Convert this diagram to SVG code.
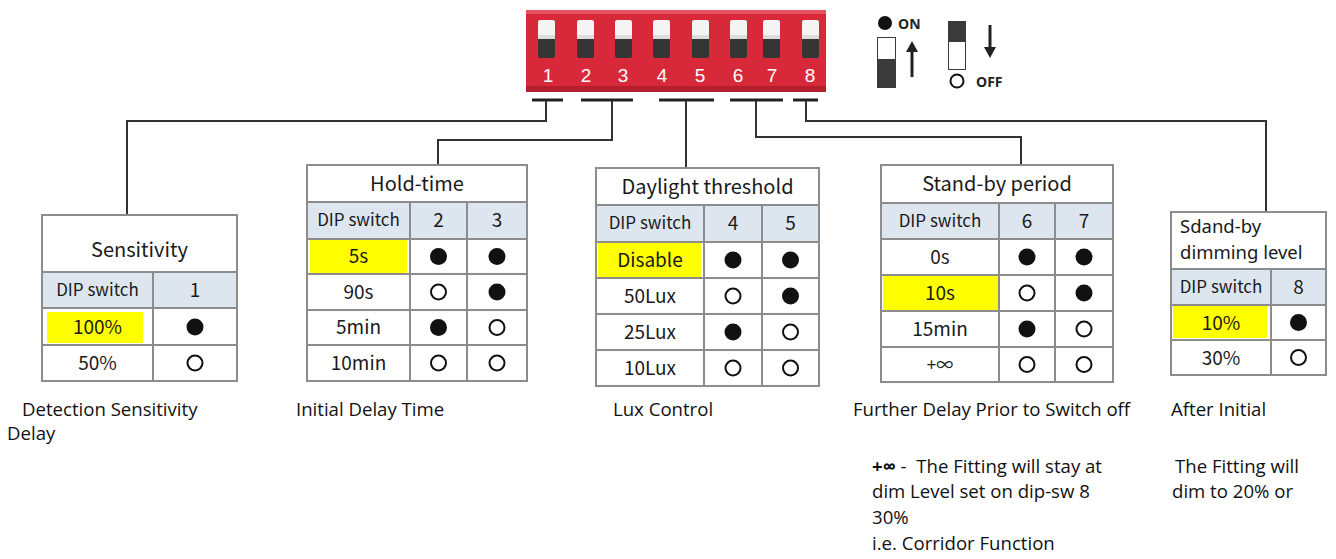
<svg xmlns="http://www.w3.org/2000/svg" width="1336" height="559" viewBox="0 0 1336 559">
<style>
.bg{fill:#fff}
.conn{fill:none;stroke:#333;stroke-width:2}
.bar{fill:#222}
.box{fill:#fff;stroke:#8c8c8c;stroke-width:2}
.hdr{fill:#dde6ef}
.ln{stroke:#8c8c8c;stroke-width:2}
.hl{fill:#ffff00}
.t{font-family:"Noto Sans CJK SC","Noto Sans",sans-serif;fill:#1a1a1a;text-anchor:middle}
.ttl{font-size:20px}
.dip{font-size:17px}
.val{font-size:19px}
.on{fill:#111}
.off{fill:#fff;stroke:#111;stroke-width:2}
.num{font-family:"Liberation Sans",Arial,sans-serif;font-size:19px;fill:#fff;text-anchor:middle}
.lg{font-family:"Open Sans","Liberation Sans",sans-serif;font-size:14px;font-weight:bold;fill:#222}
.note{font-family:"Open Sans","Liberation Sans",sans-serif;font-size:18.6px;fill:#111;white-space:pre}
.sw-w{fill:#f4f4f4}
.sw-d{fill:#353535}
</style>
<defs>
<g id="sw"><rect x="0" y="0" width="17" height="38" rx="2" class="sw-d"/><rect x="0" y="0" width="17" height="19" rx="2" class="sw-w"/><rect x="0" y="15" width="17" height="4" fill="#ddd"/></g>
</defs>
<rect class="bg" x="0" y="0" width="1336" height="559"/>

<g id="dip-switch">
<rect x="526" y="10" width="300" height="82" rx="2" fill="#d8293a"/>
<rect x="526" y="10" width="300" height="4" fill="#e4525f"/>
<rect x="526" y="86" width="300" height="6" fill="#b51f2d"/>
<use href="#sw" x="538" y="20"/>
<use href="#sw" x="577" y="20"/>
<use href="#sw" x="615" y="20"/>
<use href="#sw" x="653" y="20"/>
<use href="#sw" x="692" y="20"/>
<use href="#sw" x="730" y="20"/>
<use href="#sw" x="763" y="20"/>
<use href="#sw" x="802" y="20"/>
<text class="num" x="548" y="82">1</text>
<text class="num" x="586" y="82">2</text>
<text class="num" x="623" y="82">3</text>
<text class="num" x="662" y="82">4</text>
<text class="num" x="700" y="82">5</text>
<text class="num" x="738" y="82">6</text>
<text class="num" x="772" y="82">7</text>
<text class="num" x="810" y="82">8</text>
<rect class="bar" x="532" y="98.5" width="31" height="3"/>
<rect class="bar" x="581" y="98.5" width="52" height="3"/>
<rect class="bar" x="659" y="98.5" width="55" height="3"/>
<rect class="bar" x="730" y="98.5" width="53" height="3"/>
<rect class="bar" x="793" y="98.5" width="25" height="3"/>
</g>

<g id="legend">
<circle cx="885" cy="23" r="7" class="on"/>
<text class="lg" x="898" y="29">ON</text>
<rect x="877" y="37" width="19" height="51" fill="#3a3a3a"/>
<rect x="878" y="38" width="17" height="21" fill="#fff"/>
<path d="M912 77 V50" stroke="#222" stroke-width="3"/>
<path d="M906 52 L912 41 L918 52 Z" fill="#222"/>
<rect x="948" y="21" width="18" height="49" fill="#3a3a3a"/>
<rect x="949" y="42" width="16" height="27" fill="#fff"/>
<path d="M990 25 V48" stroke="#222" stroke-width="3"/>
<path d="M984 47 L990 58 L996 47 Z" fill="#222"/>
<circle cx="957" cy="81" r="6.5" class="off"/>
<text class="lg" x="976" y="87">OFF</text>
</g>

<g id="connectors">
<path class="conn" d="M546 101 V121 H127 V215"/>
<path class="conn" d="M612 101 V140 H438 V165"/>
<path class="conn" d="M686 101 V168"/>
<path class="conn" d="M756 101 V137 H1021 V165"/>
<path class="conn" d="M806 101 V121 H1266 V212"/>
</g>

<g id="sensitivity">
<rect class="box" x="42" y="215" width="195" height="166"/>
<rect class="hdr" x="43" y="272" width="193" height="36"/>
<rect class="hl" x="47" y="312" width="96" height="31"/>
<line class="ln" x1="42" y1="272" x2="237" y2="272"/>
<line class="ln" x1="42" y1="308" x2="237" y2="308"/>
<line class="ln" x1="42" y1="345" x2="237" y2="345"/>
<line class="ln" x1="153" y1="272" x2="153" y2="381"/>
<text class="t ttl" x="139.5" y="257">Sensitivity</text>
<text class="t dip" x="97.5" y="296">DIP switch</text>
<text class="t val" x="195" y="297">1</text>
<text class="t val" x="97.5" y="334">100%</text>
<text class="t val" x="97.5" y="370">50%</text>
<circle class="on" cx="195" cy="327" r="8.5"/>
<circle class="off" cx="195" cy="363" r="7.5"/>
</g>

<g id="hold-time">
<rect class="box" x="307" y="165" width="220" height="216"/>
<rect class="hdr" x="308" y="202" width="218" height="37"/>
<rect class="hl" x="310" y="240" width="97" height="33"/>
<line class="ln" x1="307" y1="202" x2="527" y2="202"/>
<line class="ln" x1="307" y1="239" x2="527" y2="239"/>
<line class="ln" x1="307" y1="274" x2="527" y2="274"/>
<line class="ln" x1="307" y1="310" x2="527" y2="310"/>
<line class="ln" x1="307" y1="345" x2="527" y2="345"/>
<line class="ln" x1="410" y1="202" x2="410" y2="381"/>
<line class="ln" x1="467" y1="202" x2="467" y2="381"/>
<text class="t ttl" x="417" y="191">Hold-time</text>
<text class="t dip" x="358.5" y="226">DIP switch</text>
<text class="t val" x="438.5" y="227">2</text>
<text class="t val" x="497" y="227">3</text>
<text class="t val" x="358.5" y="263">5s</text>
<text class="t val" x="358.5" y="299">90s</text>
<text class="t val" x="358.5" y="334">5min</text>
<text class="t val" x="358.5" y="370">10min</text>
<circle class="on" cx="438.5" cy="256.5" r="8.5"/>
<circle class="on" cx="497" cy="256.5" r="8.5"/>
<circle class="off" cx="438.5" cy="292" r="7.5"/>
<circle class="on" cx="497" cy="292" r="8.5"/>
<circle class="on" cx="438.5" cy="327.5" r="8.5"/>
<circle class="off" cx="497" cy="327.5" r="7.5"/>
<circle class="off" cx="438.5" cy="363" r="7.5"/>
<circle class="off" cx="497" cy="363" r="7.5"/>
</g>

<g id="daylight-threshold">
<rect class="box" x="596" y="168" width="223" height="218"/>
<rect class="hdr" x="597" y="205" width="221" height="37"/>
<rect class="hl" x="598" y="243" width="103" height="34"/>
<line class="ln" x1="596" y1="205" x2="819" y2="205"/>
<line class="ln" x1="596" y1="242" x2="819" y2="242"/>
<line class="ln" x1="596" y1="278" x2="819" y2="278"/>
<line class="ln" x1="596" y1="314" x2="819" y2="314"/>
<line class="ln" x1="596" y1="350" x2="819" y2="350"/>
<line class="ln" x1="704" y1="205" x2="704" y2="386"/>
<line class="ln" x1="762" y1="205" x2="762" y2="386"/>
<text class="t ttl" x="707.5" y="194">Daylight threshold</text>
<text class="t dip" x="650" y="229">DIP switch</text>
<text class="t val" x="733" y="230">4</text>
<text class="t val" x="790.5" y="230">5</text>
<text class="t val" x="650" y="267">Disable</text>
<text class="t val" x="650" y="303">50Lux</text>
<text class="t val" x="650" y="339">25Lux</text>
<text class="t val" x="650" y="375">10Lux</text>
<circle class="on" cx="733" cy="260" r="8.5"/>
<circle class="on" cx="790.5" cy="260" r="8.5"/>
<circle class="off" cx="733" cy="296" r="7.5"/>
<circle class="on" cx="790.5" cy="296" r="8.5"/>
<circle class="on" cx="733" cy="332" r="8.5"/>
<circle class="off" cx="790.5" cy="332" r="7.5"/>
<circle class="off" cx="733" cy="368" r="7.5"/>
<circle class="off" cx="790.5" cy="368" r="7.5"/>
</g>

<g id="stand-by-period">
<rect class="box" x="881" y="165" width="232" height="217"/>
<rect class="hdr" x="882" y="203" width="230" height="36"/>
<rect class="hl" x="883" y="276" width="115" height="34"/>
<line class="ln" x1="881" y1="203" x2="1113" y2="203"/>
<line class="ln" x1="881" y1="239" x2="1113" y2="239"/>
<line class="ln" x1="881" y1="275" x2="1113" y2="275"/>
<line class="ln" x1="881" y1="311" x2="1113" y2="311"/>
<line class="ln" x1="881" y1="347" x2="1113" y2="347"/>
<line class="ln" x1="999" y1="203" x2="999" y2="382"/>
<line class="ln" x1="1055" y1="203" x2="1055" y2="382"/>
<text class="t ttl" x="997" y="191">Stand-by period</text>
<text class="t dip" x="940" y="227">DIP switch</text>
<text class="t val" x="1027" y="228">6</text>
<text class="t val" x="1084" y="228">7</text>
<text class="t val" x="940" y="264">0s</text>
<text class="t val" x="940" y="300">10s</text>
<text class="t val" x="940" y="336">15min</text>
<text class="t dip" x="940" y="371">+∞</text>
<circle class="on" cx="1027" cy="257" r="8.5"/>
<circle class="on" cx="1084" cy="257" r="8.5"/>
<circle class="off" cx="1027" cy="293" r="7.5"/>
<circle class="on" cx="1084" cy="293" r="8.5"/>
<circle class="on" cx="1027" cy="329" r="8.5"/>
<circle class="off" cx="1084" cy="329" r="7.5"/>
<circle class="off" cx="1027" cy="364.5" r="7.5"/>
<circle class="off" cx="1084" cy="364.5" r="7.5"/>
</g>

<g id="stand-by-dimming-level">
<rect class="box" x="1171" y="212" width="155" height="163"/>
<rect class="hdr" x="1172" y="269" width="153" height="36"/>
<rect class="hl" x="1173" y="306" width="94" height="32"/>
<line class="ln" x1="1171" y1="269" x2="1326" y2="269"/>
<line class="ln" x1="1171" y1="305" x2="1326" y2="305"/>
<line class="ln" x1="1171" y1="340" x2="1326" y2="340"/>
<line class="ln" x1="1271" y1="269" x2="1271" y2="375"/>
<text x="1180" y="233" style="font-family:'Noto Sans',sans-serif;font-size:18.5px;fill:#1a1a1a">Sdand-by</text>
<text x="1180" y="259" style="font-family:'Noto Sans',sans-serif;font-size:18.5px;fill:#1a1a1a">dimming level</text>
<text class="t dip" x="1221" y="293">DIP switch</text>
<text class="t val" x="1298.5" y="294">8</text>
<text class="t val" x="1221" y="330">10%</text>
<text class="t val" x="1221" y="365">30%</text>
<circle class="on" cx="1298.5" cy="322.5" r="8.5"/>
<circle class="off" cx="1298.5" cy="357.5" r="7.5"/>
</g>

<g id="notes">
<text class="note" x="22" y="416">Detection Sensitivity</text>
<text class="note" x="7" y="440">Delay</text>
<text class="note" x="296" y="416">Initial Delay Time</text>
<text class="note" x="613" y="416">Lux Control</text>
<text class="note" x="853" y="416">Further Delay Prior to Switch off</text>
<text class="note" x="1171" y="416">After Initial</text>
<text class="note" x="872" y="473"><tspan font-weight="bold">+∞</tspan> -  The Fitting will stay at</text>
<text class="note" x="872" y="498">dim Level set on dip-sw 8</text>
<text class="note" x="872" y="524">30%</text>
<text class="note" x="872" y="550">i.e. Corridor Function</text>
<text class="note" x="1175" y="473">The Fitting will</text>
<text class="note" x="1172" y="498">dim to 20% or</text>
</g>
</svg>
